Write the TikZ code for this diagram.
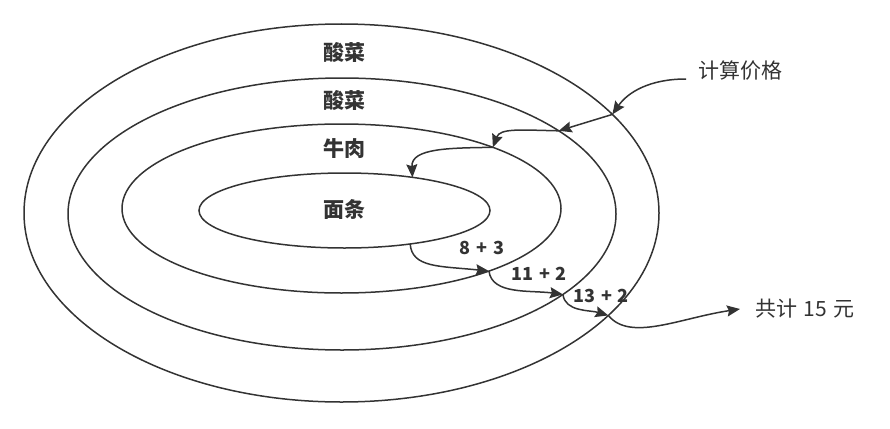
\documentclass[tikz,border=0pt]{standalone}
\usepackage{fontspec}
\setmainfont{Noto Sans CJK SC}
\usepackage{tikz}
\usetikzlibrary{arrows.meta,shapes.geometric}
\definecolor{scline}{RGB}{51,51,51}
\definecolor{sctext}{RGB}{51,51,51}
\newcommand\scWideSpace{\spaceskip=.32em\relax}
\tikzset{
  scRing/.style={draw=scline, ellipse, line width=1.5pt, outer sep=0pt,
                 inner sep=0pt},
  scLayer/.style={text=sctext, inner sep=0pt,
                  font=\fontsize{21}{25}\selectfont\bfseries},
  scSum/.style={text=sctext, inner sep=0pt,
                font=\fontsize{18}{22}\selectfont\bfseries\scWideSpace},
  scNote/.style={text=sctext, inner ysep=0pt, anchor=west,
                 font=\fontsize{21}{25}\selectfont\scWideSpace},
  scArrow/.style={-{Stealth[length=13pt,width=11pt,inset=1.8pt]},
                  line width=1.5pt, draw=scline}
}

\begin{document}
\begin{tikzpicture}[x=1pt,y=-1pt]
  \useasboundingbox (0,0) rectangle (890,428);
  \node[scRing, minimum width=635pt, minimum height=378pt] (outer) at (341.5,213) {};
  \node[scRing, minimum width=548pt, minimum height=272pt] (second) at (342,214) {};
  \node[scRing, minimum width=439pt, minimum height=169pt] (third) at (341.5,208.5) {};
  \node[scRing, minimum width=291pt, minimum height=75pt] (inner) at (344.5,210.5) {};

  \node[scLayer] (pickleOut) at (344,53) {酸菜};
  \node[scLayer] (pickleIn) at (344,101) {酸菜};
  \node[scLayer] (beef) at (344,149) {牛肉};
  \node[scLayer] (noodle) at (344,209) {面条};

  \node[scNote, inner xsep=12pt] (price) at (686,71) {计算价格};
  \node[scNote, inner xsep=15pt] (total) at (740,309) {共计 15 元};

  \node[scSum] (sumA) at (482,248) {8 + 3};
  \node[scSum] (sumB) at (539,273.5) {11 + 2};
  \node[scSum] (sumC) at (601,296) {13 + 2};

  \draw[scArrow] ([yshift=-8pt]price.west) .. controls (650,79) and (628,92) .. (outer.20.3);
  \draw[scArrow] (outer.20.3) -- (second.21.8);
  \draw[scArrow] (second.21.8) .. controls (520,130) and (500,128) .. (third.22.1);
  \draw[scArrow] (third.22.1) .. controls (450,148) and (411,148) .. (inner.26.7);
  \draw[scArrow] (inner.-27.7) .. controls (412,268) and (440,266) .. (third.-23.7);
  \draw[scArrow] (third.-23.7) .. controls (492,295) and (530,290) .. (second.-20.9);
  \draw[scArrow] (second.-20.9) .. controls (565,312) and (590,310) .. (outer.-21);
  \draw[scArrow] (outer.-21) .. controls (630,342) and (680,318) .. (total.west);
\end{tikzpicture}
\end{document}
